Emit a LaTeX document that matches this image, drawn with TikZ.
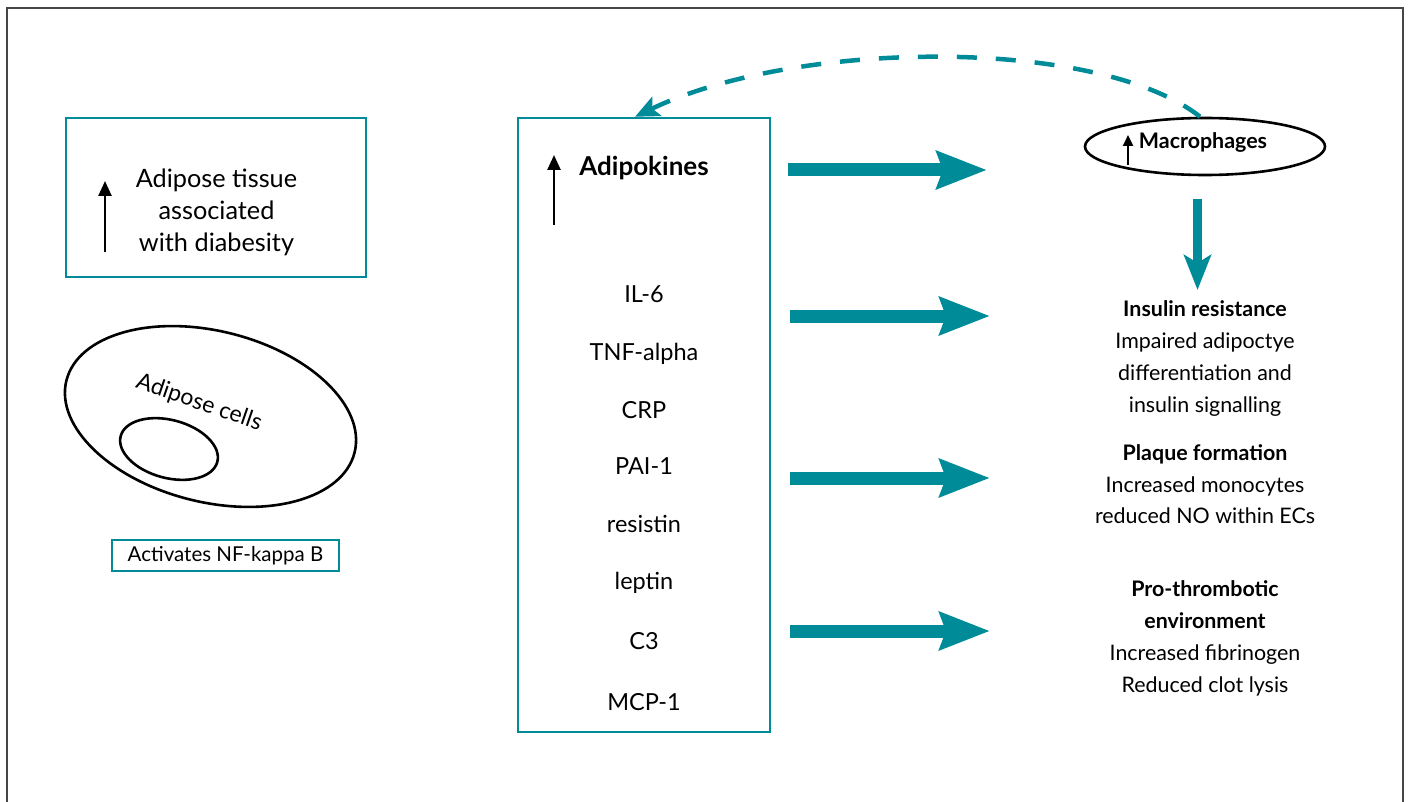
\documentclass[tikz,border=0pt]{standalone}
\usepackage{fontspec}
\setmainfont{Lato}
\usetikzlibrary{arrows.meta,shapes.geometric}
\definecolor{teal1}{RGB}{0,139,152}
\definecolor{frame1}{RGB}{70,70,70}
\begin{document}
\begin{tikzpicture}[x=1pt,y=-1pt,
  tbox/.style={draw=teal1, line width=2.5pt, inner sep=0pt},
  blk/.style={draw=black, line width=2.6pt, ellipse, inner sep=0pt},
  txt/.style={inner sep=0pt, anchor=base, font=\fontsize{21.4}{24}\selectfont},
  btxt/.style={txt, font=\bfseries\fontsize{21.4}{24}\selectfont},
  ltxt/.style={txt, font=\fontsize{25.3}{28}\selectfont},
  mtxt/.style={txt, font=\fontsize{23.5}{26}\selectfont},
  uparrow/.style={draw=black, line width=2.5pt, -{Triangle[length=15pt,width=13pt]}},
  bigarrow/.style={draw=teal1, line width=13pt, -{Stealth[length=50pt,width=37pt,inset=6pt]}},
  downarrow/.style={draw=teal1, line width=9pt, -{Stealth[length=35pt,width=27pt,inset=8pt]}},
  dasharrow/.style={draw=teal1, line width=4.5pt, dash pattern=on 20pt off 19pt, -{Stealth[length=24pt,width=21pt,inset=5pt]}}
]
\useasboundingbox (0,0) rectangle (1410,802);
\draw[draw=frame1, line width=1.5pt] (7,802) -- (7,8) -- (1403,8) -- (1403,802);

% left box
\node[tbox, minimum width=300pt, minimum height=159pt] (lbox) at (216,197.5) {};
\node[ltxt] (l1) at (216.5,188) {Adipose tissue};
\node[ltxt] (l2) at (216.5,220) {associated};
\node[ltxt] (l3) at (216.5,252) {with diabesity};
\coordinate (la1) at (105,252);
\coordinate (la2) at (105,181);
\draw[uparrow] (la1) -- (la2);

% adipose cells
\node[blk, minimum width=297pt, minimum height=171pt, rotate=-14] (cell) at (210.5,416.5) {};
\node[blk, minimum width=100pt, minimum height=58pt, rotate=-15] (nuc) at (169,449) {};
\node[inner sep=0pt, rotate=-19, font=\fontsize{23}{26}\selectfont] (cellt) at (199,403) {Adipose cells};
\node[tbox, line width=2pt, minimum width=227pt, minimum height=31pt, font=\fontsize{20.5}{22}\selectfont] (nfkb) at (225.5,555.5) {Activates NF-kappa B};

% adipokines box
\node[tbox, minimum width=252pt, minimum height=614pt] (abox) at (644,425) {};
\node[txt, font=\bfseries\fontsize{26}{30}\selectfont] (adk) at (644,176) {Adipokines};
\coordinate (aa1) at (554,225);
\coordinate (aa2) at (554,155);
\draw[uparrow] (aa1) -- (aa2);
\node[mtxt] (k1) at (644,302) {IL-6};
\node[mtxt] (k2) at (644,360) {TNF-alpha};
\node[mtxt] (k3) at (644,418) {CRP};
\node[mtxt] (k4) at (644,474) {PAI-1};
\node[mtxt] (k5) at (644,532) {resistin};
\node[mtxt] (k6) at (644,589) {leptin};
\node[mtxt] (k7) at (644,649) {C3};
\node[mtxt] (k8) at (644,710) {MCP-1};

% macrophages
\node[blk, minimum width=240pt, minimum height=57pt] (mac) at (1205,146.5) {};
\node[btxt] (mact) at (1203,148.5) {Macrophages};
\coordinate (ma1) at (1128,165);
\coordinate (ma2) at (1128,135);
\draw[draw=black, line width=2.3pt, -{Triangle[length=11pt,width=10pt]}] (ma1) -- (ma2);

% dashed feedback
\draw[dasharrow] ([xshift=-5pt]mac.north) .. controls (1100,38) and (800,38) .. ([xshift=-9pt]abox.north);

% right column
\node[btxt] (ir) at (1205,316) {Insulin resistance};
\node[txt] (ir1) at (1205,348) {Impaired adipoctye};
\node[txt] (ir2) at (1205,380) {differentiation and};
\node[txt] (ir3) at (1205,412) {insulin signalling};
\node[btxt] (pf) at (1205,460) {Plaque formation};
\node[txt] (pf1) at (1205,492) {Increased monocytes};
\node[txt] (pf2) at (1205,523) {reduced NO within ECs};
\node[btxt] (pt) at (1205,596) {Pro-thrombotic};
\node[btxt] (pt0) at (1205,628) {environment};
\node[txt] (pt1) at (1205,660) {Increased fibrinogen};
\node[txt] (pt2) at (1205,692) {Reduced clot lysis};

% big arrows
\coordinate (b1s) at (788,170);  \coordinate (b1e) at (987,170);
\coordinate (b2s) at (790,316);  \coordinate (b2e) at (990,316);
\coordinate (b3s) at (790,478);  \coordinate (b3e) at (990,478);
\coordinate (b4s) at (790,631);  \coordinate (b4e) at (990,631);
\draw[bigarrow] (b1s) -- (b1e);
\draw[bigarrow] (b2s) -- (b2e);
\draw[bigarrow] (b3s) -- (b3e);
\draw[bigarrow] (b4s) -- (b4e);
\coordinate (ds) at (1197.5,199);
\coordinate (de) at (1197.5,290);
\draw[downarrow] (ds) -- (de);
\end{tikzpicture}
\end{document}
